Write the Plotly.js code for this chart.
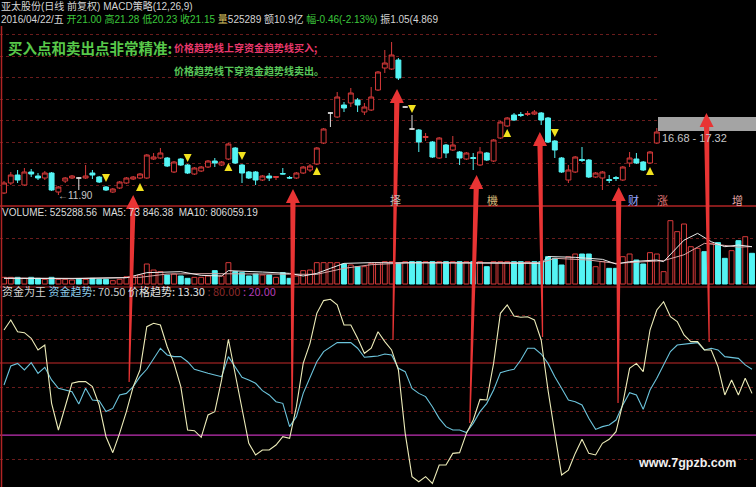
<!DOCTYPE html>
<html><head><meta charset="utf-8">
<script src="https://cdn.plot.ly/plotly-3.0.1.min.js"></script>
<style>html,body{margin:0;padding:0;background:#000;}#chart{width:756px;height:487px;}</style>
</head><body><div id="chart"></div>
<script>
// ---------- price candles (bar index = position) ----------
const openP = [12.06,12.86,13.5,12.7,13.74,13.42,13.26,13.66,12.14,13.02,
 13.26,13.26,13.26,13.66,13.34,12.54,12.14,12.46,12.86,13.18,
 13.26,13.26,14.78,14.86,14.86,13.74,14.78,14.3,13.58,13.82,
 14.14,14.62,14.3,14.78,15.66,14.3,13.74,13.74,13.1,13.42,
 13.3,13.62,13.3,13.26,13.66,13.9,14.38,16.06,18.46,18.14,
 19.1,19.26,19.5,18.54,18.7,20.3,22.06,21.98,22.7,18.94,
 17.18,17.1,16.5,16.14,14.86,15.9,15.5,15.34,14.78,14.9,
 14.3,15.26,14.62,16.46,17.42,18.3,18.34,18.34,18.38,18.46,
 18.06,16.22,14.86,13.1,13.74,14.74,14.7,13.34,13.26,13.14,
 13.3,13.1,14.46,14.78,14.54,14.46,16.06];
const highP = [13.02,13.74,13.9,14.06,13.98,13.66,13.82,13.74,12.62,13.34,
 13.5,13.34,14.3,13.9,13.42,12.62,12.46,13.02,13.34,13.42,
 13.66,15.18,15.26,15.66,14.94,14.62,14.86,14.38,14.14,14.22,
 14.7,14.86,14.62,16.06,15.74,14.38,13.82,13.82,13.5,13.66,
 13.42,14.06,13.42,13.74,14.22,14.38,15.74,17.26,18.54,20.14,
 19.34,20.46,19.66,19.26,20.54,21.82,23.5,24.14,22.86,18.98,
 18.3,17.18,16.86,16.22,16.54,15.98,16.62,15.42,15.34,15.26,
 15.74,15.34,16.38,17.82,18.14,18.46,18.54,18.62,18.7,18.54,
 18.14,16.3,14.94,14.3,15.02,15.74,14.78,13.74,13.82,13.5,
 13.42,14.22,15.34,15.26,14.62,15.42,17.26];
const lowP = [11.98,12.7,12.86,12.62,13.34,13.1,13.1,12.22,11.9,12.86,
 13.18,12.3,13.18,13.18,12.86,12.22,12.06,12.38,12.78,13.1,
 13.18,13.18,14.7,14.78,14.14,13.66,14.22,13.58,13.5,13.74,
 14.06,14.14,14.22,14.7,14.38,12.86,13.18,12.7,13.02,13.02,
 13.1,13.54,13.18,13.18,13.58,13.74,14.3,15.98,17.34,18.06,
 18.54,18.94,18.54,18.3,18.62,20.22,21.66,21.9,21.1,18.9,
 17.1,15.34,16.22,14.86,14.78,14.86,15.42,14.3,14.7,13.9,
 14.22,14.62,14.54,16.38,17.34,17.82,18.14,18.22,18.3,17.5,
 16.06,14.86,13.66,12.86,13.66,14.54,13.26,13.26,12.3,12.86,
 13.02,13.02,14.14,14.38,13.82,14.38,15.98];
const closeP = [12.86,13.5,13.1,13.74,13.58,13.26,13.66,12.3,12.54,13.26,
 13.42,13.26,13.42,13.5,12.94,12.3,12.38,12.94,13.26,13.34,
 13.58,15.1,14.94,15.26,14.22,14.54,14.3,13.66,14.06,14.14,
 14.62,14.46,14.54,15.98,14.46,13.66,13.26,13.1,13.42,13.26,
 13.38,13.58,13.26,13.66,14.14,14.22,15.66,17.18,18.46,19.74,
 18.86,20.06,19.1,18.94,19.74,21.74,22.46,23.1,21.26,18.94,
 17.18,16.14,16.58,14.94,16.46,15.26,15.9,14.86,15.26,14.82,
 15.34,14.7,16.3,17.74,18.06,17.9,18.26,18.42,18.54,17.9,
 16.14,15.5,13.74,13.9,14.94,14.66,13.34,13.66,13.74,13.06,
 13.22,14.14,14.86,14.46,13.9,15.34,16.94];
const dojiBars = [11, 48, 59, 60];

// yellow buy / sell markers
const buyBars = [20, 33, 46, 74, 95];
const buyPrice = [12.86, 14.46, 14.14, 17.18, 14.14];
const sellBars = [15, 27, 35, 60, 81];
const sellPrice = [12.94, 14.54, 14.7, 18.46, 16.54];

// ---------- volume (10k lots) ----------
const volume = [11.4,11.4,11.4,9.7,11.4,9.7,8.0,11.4,8.0,8.0,
 6.8,8.0,8.0,9.7,8.0,8.0,5.7,8.0,12.5,12.5,
 15.4,34.2,23.9,21.1,15.4,17.1,13.7,9.7,11.4,11.4,
 13.7,22.8,13.7,36.5,21.1,19.4,13.7,17.1,15.4,15.4,
 11.4,19.4,9.7,13.7,22.8,23.9,36.5,36.5,36.5,36.5,
 34.2,32.5,29.6,29.6,35.3,36.5,38.2,38.2,35.3,38.2,
 38.2,38.2,38.2,38.2,38.2,38.2,38.2,38.2,38.2,38.2,
 38.2,29.6,38.2,38.2,38.2,38.2,38.2,38.2,38.2,38.2,
 46.7,43.9,32.5,46.7,51.3,51.3,51.3,29.6,38.2,26.8,
 26.8,46.7,51.3,41.0,34.2,53.6,51.3,21.1,108.3,89.5,
 102.6,63.8,61.0,55.3,69.5,70.7,43.9,57.0,74.1,80.9,
 52.5];
const volUp = [1,1,0,1,0,0,1,0,1,1,
 1,0,1,0,0,0,1,1,1,1,
 1,1,1,1,0,1,0,0,1,1,
 1,0,1,1,0,0,0,0,1,0,
 1,0,0,1,1,1,1,1,1,1,
 0,1,0,1,1,1,1,1,0,1,
 0,0,1,0,1,0,1,0,1,0,
 1,0,1,1,1,0,0,1,0,0,
 0,0,0,1,1,0,0,1,1,0,
 0,1,1,0,0,1,1,1,1,1,
 1,1,1,0,1,0,0,1,0,1,
 0];
const ma5Bars = [0,10,18,21,26,29,32,33,38,42,44,46,48,50,54,60,70,79,80,84,88,90,92,96,97,100,102,104,106,108,110];
const ma5Vals = [9.7,9.1,10.8,19.4,21.1,14.8,13.7,22.8,20.5,18.2,13.7,18.2,26.8,35.3,36.5,36.5,36.5,35.3,47,45.6,42.2,34.2,38.2,41,38.2,75,86.6,72.4,63.8,66.7,63.8];
const ma10Bars = [0,10,20,24,30,36,42,46,50,54,60,70,79,81,86,90,94,97,100,103,106,108,110];
const ma10Vals = [10.3,9.7,11.4,17.1,17.7,17.1,17.7,16.5,26.8,33,36.5,36.5,36.5,43.9,41,35.3,38.2,40,50,69.5,66,63,64];

// ---------- indicator 资金为王 ----------
const priceTrend = [107.5,115.9,106.1,105.3,100.6,90.9,95.0,46.4,24.2,43.6,
 63.1,64.5,64.5,60.3,45.0,18.6,5.3,21.4,39.5,60.3,
 74.2,110.3,113.1,111.7,93.6,79.7,60.3,24.2,23.6,18.1,
 36.7,39.5,65.9,99.8,71.4,43.6,13.1,3.4,7.5,7.5,
 11.7,18.6,17.3,43.6,79.7,96.4,121.4,132.0,133.1,128.4,
 111.7,111.7,100.6,88.1,92.3,106.1,97.8,90.9,74.2,21.4,
 -14.7,-18.9,-14.7,-20.3,-5.0,-5.0,4.7,5.3,21.4,32.5,
 49.7,49.2,79.7,121.4,128.4,119.2,118.1,118.6,115.9,99.2,
 57.5,21.4,-13.3,-9.2,4.7,16.4,4.7,3.4,13.1,16.4,
 22.8,46.4,75.6,79.7,72.8,107.5,124.2,131.1,118.6,114.5,
 103.4,97.8,97.8,90.9,90.9,77.0,53.4,65.9,53.4,67.3,
 54.7];
const fundTrend = [61.7,77.5,79.7,74.2,80.3,71.4,76.4,65.9,58.9,57.5,
 56.1,45.9,58.9,49.2,48.6,39.5,42.2,53.4,54.7,60.3,
 68.6,74.8,83.9,92.3,86.7,85.3,85.3,81.1,74.8,72.8,
 71.4,70.0,68.6,85.3,76.4,68.1,65.9,63.1,57.0,53.4,
 47.8,46.4,27.0,35.3,54.7,67.3,81.1,89.5,93.6,97.0,
 97.0,97.0,92.3,84.8,85.3,85.9,87.5,86.7,75.6,72.8,
 58.9,54.7,52.0,43.6,33.9,27.0,24.2,24.2,22.0,29.7,
 39.5,46.4,57.5,72.0,73.6,74.8,82.5,92.3,92.3,87.5,
 79.7,68.6,58.9,49.2,47.8,45.0,33.9,24.7,27.0,28.4,
 32.5,45.0,55.3,53.4,41.4,57.5,67.3,78.4,89.5,95.0,
 95.9,96.4,97.0,90.9,92.3,90.9,85.3,84.8,83.9,78.4,
 74.8];
const upperLevel = 80, lowerLevel = 20;

// big red signal arrows: head bar / tail bar, head & tail pixel rows
const signalHeadBar = [19.0, 42.5, 57.8, 69.5, 78.8, 90.4, 103.3];
const signalTailBar = [18.4, 42.35, 57.2, 68.5, 79.2, 90.3, 103.7];
const signalHeadRow = [195, 189, 89, 175, 132, 187, 113];
const signalTailRow = [382, 414, 340, 423, 337, 403, 342];

// ---------- styling ----------
const W = 756, H = 487;
const RED = '#d83a3a', CYAN = '#54f4f4', YEL = '#f2e21e';
const CJK = '"Noto Sans CJK SC", "Liberation Sans", sans-serif';
const LAT = '"Liberation Sans", "Noto Sans CJK SC", sans-serif';
const PXU = 6.8;               // pixels per bar
const X0 = -4 / PXU;           // axis start
const yp = r => 1 - r / H;

const candleIdx = openP.map((_, i) => i);
const mainIdx = candleIdx.filter(i => !dojiBars.includes(i));
const pick = (a, idx) => idx.map(i => a[i]);
const volIdx = volume.map((_, i) => i);
const indIdx = priceTrend.map((_, i) => i);

const traces = [
  {type:'candlestick', x:mainIdx, open:pick(openP,mainIdx), high:pick(highP,mainIdx), low:pick(lowP,mainIdx), close:pick(closeP,mainIdx),
   xaxis:'x', yaxis:'y', whiskerwidth:0, hoverinfo:'skip',
   increasing:{line:{color:RED,width:1}, fillcolor:'#000'},
   decreasing:{line:{color:CYAN,width:1}, fillcolor:CYAN}},
  {type:'candlestick', x:dojiBars, open:pick(openP,dojiBars), high:pick(highP,dojiBars), low:pick(lowP,dojiBars), close:pick(closeP,dojiBars),
   xaxis:'x', yaxis:'y', whiskerwidth:0, hoverinfo:'skip',
   increasing:{line:{color:'#e0e0e0',width:1}, fillcolor:'#e0e0e0'},
   decreasing:{line:{color:'#e0e0e0',width:1}, fillcolor:'#e0e0e0'}},
  {type:'scatter', mode:'markers', x:buyBars, y:buyPrice, xaxis:'x', yaxis:'y', hoverinfo:'skip',
   marker:{symbol:'arrow-up', size:8, color:YEL, line:{width:0}}},
  {type:'scatter', mode:'markers', x:sellBars, y:sellPrice, xaxis:'x', yaxis:'y', hoverinfo:'skip',
   marker:{symbol:'arrow-down', size:8, color:YEL, line:{width:0}}},
  {type:'bar', x:volIdx, y:volume, xaxis:'x2', yaxis:'y2', width:0.72, hoverinfo:'skip',
   marker:{color:volUp.map(u => u ? '#000' : CYAN), line:{color:volUp.map(u => u ? RED : CYAN), width:1}}},
  {type:'scatter', mode:'lines', x:ma10Bars, y:ma10Vals, xaxis:'x2', yaxis:'y2', hoverinfo:'skip', line:{color:'#d8a4a4', width:1}},
  {type:'scatter', mode:'lines', x:ma5Bars, y:ma5Vals, xaxis:'x2', yaxis:'y2', hoverinfo:'skip', line:{color:'#ececec', width:1}},
  {type:'scatter', mode:'lines', x:indIdx, y:fundTrend, xaxis:'x3', yaxis:'y3', hoverinfo:'skip', line:{color:'#6cc4dc', width:1.1}},
  {type:'scatter', mode:'lines', x:indIdx, y:priceTrend, xaxis:'x3', yaxis:'y3', hoverinfo:'skip', line:{color:'#ecebb8', width:1.1}}
];

function arrowPath(xh, yh, xt, yt) {
  const u = 1 / PXU, hw = 7 * u, hl = 14, sw = 2.6 * u, tw = 0.6 * u;
  const yb = yh + hl;
  const xb = xh + (xt - xh) * (hl / (yt - yh));
  const P = (x, y) => x.toFixed(3) + ',' + yp(y).toFixed(4);
  return 'M' + P(xh, yh) + ' L' + P(xb + hw, yb) + ' L' + P(xb + sw, yb) + ' L' + P(xt + tw, yt) +
         ' L' + P(xt - tw, yt) + ' L' + P(xb - sw, yb) + ' L' + P(xb - hw, yb) + ' Z';
}

const shapes = [
  {type:'line', xref:'paper', yref:'paper', x0:0, x1:1, y0:yp(206), y1:yp(206), line:{color:'#b02424', width:1.5}},
  {type:'line', xref:'paper', yref:'paper', x0:0, x1:1, y0:yp(287), y1:yp(287), line:{color:'#b02424', width:1}},
  {type:'line', xref:'paper', yref:'paper', x0:1.5/W, x1:1.5/W, y0:yp(26), y1:0, line:{color:'#b02424', width:1.5}},
  {type:'line', xref:'paper', yref:'y3', x0:0, x1:1, y0:upperLevel, y1:upperLevel, layer:'below', line:{color:'#c42a2a', width:1.2}},
  {type:'line', xref:'paper', yref:'y3', x0:0, x1:1, y0:lowerLevel, y1:lowerLevel, layer:'below', line:{color:'#c032b4', width:1.2}},
  {type:'rect', xref:'paper', yref:'paper', x0:658/W, x1:1, y0:yp(131), y1:yp(117), fillcolor:'#a4a4a4', line:{width:0}}
];
signalHeadBar.forEach((xh, k) => {
  shapes.push({type:'path', xref:'x2', yref:'paper', path:arrowPath(xh, signalHeadRow[k], signalTailBar[k], signalTailRow[k]),
    fillcolor:'#e83434', line:{width:0}});
});

function txt(x, y, text, size, color, fam, extra) {
  return Object.assign({x:x / W, y:yp(y), xref:'paper', yref:'paper', text:text, showarrow:false,
    xanchor:'left', yanchor:'middle', borderpad:0, font:{size:size, color:color, family:fam || CJK}}, extra || {});
}
const S = (c, t) => '<span style="color:' + c + '">' + t + '</span>';
const annotations = [
  txt(0, 6.5, '亚太股份(日线 前复权) MACD策略(12,26,9)', 10, '#d4d4d4', LAT),
  txt(0, 18.8, S('#d4d4d4','2016/04/22/五 ') + S('#3cc83c','开21.00 高21.28 低20.23 收21.15 ') + S('#d8c060','量') + S('#d4d4d4','525289 额10.9亿 ') +
      S('#3cc83c','幅-0.46(-2.13%) ') + S('#d4d4d4','振1.05(4.869'), 10, '#d4d4d4', LAT),
  txt(7, 47, '<b>买入点和卖出点非常精准:</b>', 14.5, '#58c84a'),
  txt(173, 47, '<b>价格趋势线上穿资金趋势线买入;</b>', 10, '#e8386c'),
  txt(173, 70, '<b>价格趋势线下穿资金趋势线卖出。</b>', 10, '#5ac85a'),
  txt(57, 196, '←11.90', 10, '#c8c8c8', LAT),
  txt(661, 138, '16.68 - 17.32', 11, '#c8c8c8', LAT),
  txt(389, 200, '择', 11, '#b8b8b8'),
  txt(486, 200, '機', 11, '#d4b878'),
  txt(627, 200, '财', 11, '#98a8ff'),
  txt(656, 200, '涨', 11, '#e07878'),
  txt(731, 200, '增', 11, '#e8a8a8'),
  txt(1, 212, 'VOLUME: 525288.56  MA5: 73 846.38  MA10: 806059.19', 10, '#dcdcdc', LAT),
  txt(1, 291, S('#d4d4d4','资金为王 ') + S('#8ccbe8','资金趋势') + S('#c8c8c8',': 70.50 ') + S('#e0e0e0','价格趋势: 13.30 ') +
      S('#8a2a2a',': 80.00 ') + S('#b43cb4',': 20.00'), 11, '#d4d4d4'),
  txt(637, 463, '<b>www.7gpzb.com</b>', 12.5, '#f0f0f0', LAT)
];

const axBase = {showgrid:false, zeroline:false, showticklabels:false, showline:false, ticks:'', fixedrange:true};
const layout = {
  width:W, height:H, margin:{l:0, r:0, t:0, b:0, pad:0},
  paper_bgcolor:'#000', plot_bgcolor:'#000', showlegend:false, hovermode:false,
  boxgap:0.2, boxgroupgap:0.1,
  font:{family:CJK, color:'#d4d4d4'},
  xaxis: Object.assign({}, axBase, {domain:[0, 660 / W], range:[X0, X0 + 660 / PXU], anchor:'y', rangeslider:{visible:false}}),
  yaxis: Object.assign({}, axBase, {domain:[yp(207), yp(25)], range:[10.94, 25.5], anchor:'x',
    showgrid:true, gridcolor:'#6a1c1c', griddash:'dot', gridwidth:1, tick0:12.7, dtick:1.72}),
  xaxis2: Object.assign({}, axBase, {domain:[0, 1], range:[X0, X0 + W / PXU], anchor:'y2'}),
  yaxis2: Object.assign({}, axBase, {domain:[yp(288), yp(207)], range:[-6.84, 131.7], anchor:'x2',
    showgrid:true, gridcolor:'#6a1c1c', griddash:'dot', tickvals:[77]}),
  xaxis3: Object.assign({}, axBase, {domain:[0, 1], range:[X0, X0 + W / PXU], anchor:'y3'}),
  yaxis3: Object.assign({}, axBase, {domain:[0, yp(288)], range:[-23.3, 142.5], anchor:'x3',
    showgrid:true, gridcolor:'#6a1c1c', griddash:'dot', tickvals:[0, 40, 60, 100, 120]}),
  shapes:shapes, annotations:annotations
};
Plotly.newPlot('chart', traces, layout, {staticPlot:true, displayModeBar:false});
</script></body></html>
